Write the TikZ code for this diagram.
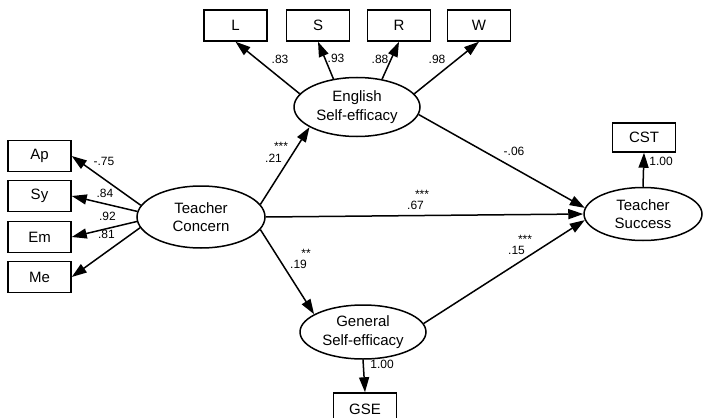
\documentclass[tikz,border=0pt]{standalone}
\usepackage{fontspec}
\setmainfont{Liberation Sans}
\usetikzlibrary{shapes.geometric,arrows.meta}

\begin{document}
\begin{tikzpicture}[x=1pt,y=1pt,
    obs/.style={draw,line width=1.5pt,minimum width=63pt,minimum height=31pt,inner sep=0pt,font=\fontsize{15}{18}\selectfont},
    lat/.style={draw,ellipse,line width=1.5pt,minimum width=126pt,minimum height=56pt,inner sep=0pt,align=center,font=\fontsize{15}{18.5}\selectfont},
    arr/.style={line width=1.5pt,-{Triangle[length=15pt,width=10pt]}},
    coef/.style={anchor=base,inner sep=0pt,font=\fontsize{12}{14}\selectfont}]
    \useasboundingbox (0,0) rectangle (703,-417);
    % latent variables
    \node [lat,minimum width=128pt,minimum height=62pt] (tc) at (201,-217) {Teacher\\Concern};
    \node [lat,minimum height=59pt] (eng) at (357,-107) {English\\Self-efficacy};
    \node [lat,minimum height=54pt] (gen) at (363,-332) {General\\Self-efficacy};
    \node [lat,minimum width=118pt,minimum height=53pt] (ts) at (643,-214) {Teacher\\Success};
    % indicators
    \node [obs] (ap) at (39.5,-156) {Ap};
    \node [obs] (sy) at (39.5,-196) {Sy};
    \node [obs] (em) at (39.5,-237) {Em};
    \node [obs] (me) at (39.5,-277) {Me};
    \node [obs] (l) at (235.5,-25.5) {L};
    \node [obs] (s) at (318,-25.5) {S};
    \node [obs] (r) at (399,-25.5) {R};
    \node [obs] (w) at (479,-25.5) {W};
    \node [obs,minimum height=29pt] (cst) at (644,-137.5) {CST};
    \node [obs,minimum height=32pt] (gse) at (365,-409) {GSE};
    % loadings
    \draw [arr] (tc.169) -- (ap.east);
    \draw [arr] (tc.175) -- (sy.east);
    \draw [arr] (tc.184) -- (em.east);
    \draw [arr] (tc.190) -- (me.east);
    \draw [arr] (eng.167) -- (l.south);
    \draw [arr] (eng.130) -- (s.south);
    \draw [arr] (eng.48) -- (r.south);
    \draw [arr] (eng.13) -- (w.south);
    \draw [arr] (ts.north) -- (cst.south);
    \draw [arr] (gen.south) -- (gse.north);
    % structural paths
    \draw [arr] (tc.12) -- (eng.203);
    \draw [arr] (tc.348) -- (gen.160);
    \draw [arr] (tc.east) -- (ts.west);
    \draw [arr] (eng.353) -- (ts.174);
    \draw [arr] (gen.8) -- (ts.186);
    % coefficients
    \node [coef] (c1) at (104,-165) {-.75};
    \node [coef] (c2) at (105,-197) {.84};
    \node [coef] (c3) at (107.5,-220) {.92};
    \node [coef] (c4) at (106.5,-238) {.81};
    \node [coef] (c5) at (280,-64) {.83};
    \node [coef] (c6) at (336,-63) {.93};
    \node [coef] (c7) at (380,-64) {.88};
    \node [coef] (c8) at (437,-64) {.98};
    \node [coef] (c9) at (661,-165) {1.00};
    \node [coef] (c10) at (382,-368) {1.00};
    \node [coef] (c11) at (273.5,-162) {.21};
    \node [coef] (s11) at (281,-150) {***};
    \node [coef] (c12) at (298.5,-268) {.19};
    \node [coef] (s12) at (306,-257.5) {**};
    \node [coef] (c13) at (415.5,-209) {.67};
    \node [coef] (s13) at (422,-198.5) {***};
    \node [coef] (c14) at (514,-155) {-.06};
    \node [coef] (c15) at (516.5,-254) {.15};
    \node [coef] (s15) at (525,-243.5) {***};
\end{tikzpicture}
\end{document}
